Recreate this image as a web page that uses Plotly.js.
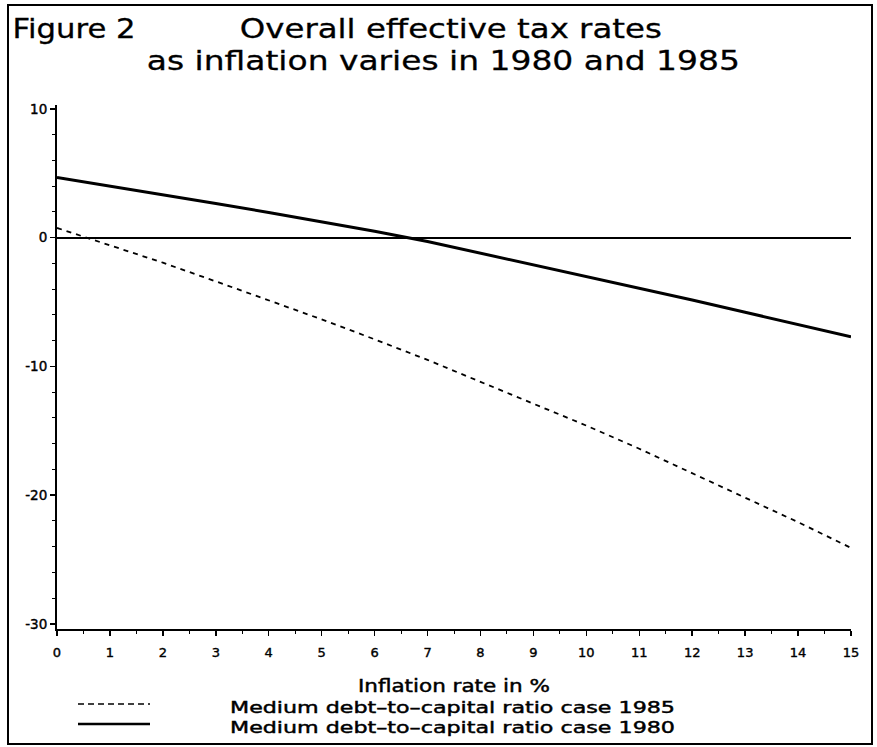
<!DOCTYPE html>
<html>
<head>
<meta charset="utf-8">
<script src="https://cdn.plot.ly/plotly-3.0.1.min.js"></script>
<style>
  html, body { margin: 0; padding: 0; background: #fff; }
  #chart { width: 877px; height: 747px; }
</style>
</head>
<body>
<div id="chart"></div>
<script>
// ---- data ----
const inflation = [0, 1, 2, 3, 4, 5, 6, 7, 8, 9, 10, 11, 12, 13, 14, 15];
const rate1985 = [0.75, -0.6, -1.95, -3.4, -4.85, -6.35, -7.9, -9.5, -11.2, -12.9, -14.6, -16.4, -18.3, -20.2, -22.1, -24.1];
const rate1980 = [4.67, 4.0, 3.35, 2.65, 1.95, 1.25, 0.5, -0.3, -1.2, -2.1, -3.0, -3.9, -4.85, -5.8, -6.75, -7.7];
const seriesNames = ["Medium debt–to–capital ratio case 1985", "Medium debt–to–capital ratio case 1980"];
const yTickVals = [-30, -20, -10, 0, 10];
const xTickVals = inflation;
const titleLeft = "Figure 2";
const titleLine1 = "Overall effective tax rates";
const titleLine2 = "as inflation varies in 1980 and 1985";
const xTitle = "Inflation rate in %";

// ---- geometry helpers (pixel -> paper) ----
const L = 57, R = 851, T = 105, B = 629;
const W = 877, H = 747;
const px = p => (p - L) / (R - L);
const py = p => (B - p) / (B - T);

const FONT = "DejaVu Sans, Verdana, sans-serif";

const traces = [
  {
    x: inflation, y: rate1985, type: "scatter", mode: "lines", name: seriesNames[0],
    line: { color: "#000", width: 1.8, dash: "5px,5px" }, showlegend: false
  },
  {
    x: inflation, y: rate1980, type: "scatter", mode: "lines", name: seriesNames[1],
    line: { color: "#000", width: 3 }, showlegend: false
  }
];

// annotation text items: [text, left px, right px, center y px, font size, extra stroke]
const textItems = [
  [titleLeft, 12, 135, 28, 27, 0.3],
  [titleLine1, 240, 662, 28, 27, 0.3],
  [titleLine2, 147, 740, 60, 27, 0.3],
  [xTitle, 358, 550, 686, 17, 0.45],
  [seriesNames[0], 230, 675, 707, 16.5, 0.45],
  [seriesNames[1], 230, 675, 727.5, 16.5, 0.45]
];

const layout = {
  width: W, height: H,
  margin: { l: L, r: W - R, t: T, b: H - B, pad: 0 },
  paper_bgcolor: "#fff", plot_bgcolor: "#fff",
  font: { family: FONT, color: "#000" },
  showlegend: false,
  xaxis: {
    range: [0, 15], tickvals: xTickVals, ticktext: xTickVals.map(String),
    showgrid: false, zeroline: false,
    showline: true, linecolor: "#000", linewidth: 2,
    ticks: "outside", ticklen: 5, tickwidth: 1.5, tickcolor: "#000",
    minor: { dtick: 0.5, ticks: "outside", ticklen: 3, tickwidth: 1, tickcolor: "#000", showgrid: false },
    tickfont: { family: FONT, size: 13, color: "#000" },
    ticklabelstandoff: 5,
    fixedrange: true
  },
  yaxis: {
    range: [-30.4, 10.3], tickvals: yTickVals, ticktext: yTickVals.map(String),
    showgrid: false,
    zeroline: true, zerolinecolor: "#000", zerolinewidth: 2.2,
    showline: true, linecolor: "#000", linewidth: 2,
    ticks: "outside", ticklen: 5, tickwidth: 1.5, tickcolor: "#000",
    minor: { dtick: 2, ticks: "outside", ticklen: 3, tickwidth: 1, tickcolor: "#000", showgrid: false },
    tickfont: { family: FONT, size: 13.5, color: "#000" },
    fixedrange: true
  },
  shapes: [
    // outer frame
    { type: "rect", xref: "paper", yref: "paper", x0: px(8), x1: px(872), y0: py(744), y1: py(5),
      line: { color: "#000", width: 2 }, fillcolor: "rgba(0,0,0,0)" },
    // legend samples
    { type: "line", xref: "paper", yref: "paper", x0: px(78), x1: px(150), y0: py(704), y1: py(704),
      line: { color: "#000", width: 1.5, dash: "6px,4px" } },
    { type: "line", xref: "paper", yref: "paper", x0: px(78), x1: px(150), y0: py(724), y1: py(724),
      line: { color: "#000", width: 2.5 } }
  ],
  annotations: textItems.map(([t, l, r, cy, fs]) => ({
    text: t, xref: "paper", yref: "paper", x: px((l + r) / 2), y: py(cy),
    xanchor: "center", yanchor: "middle", showarrow: false,
    font: { family: FONT, size: fs, color: "#000" }
  }))
};

Plotly.newPlot("chart", traces, layout, { displayModeBar: false, staticPlot: true }).then(gd => {
  // the original lettering is a wide geometric face: stretch glyphs to its measured widths
  const nodes = gd.querySelectorAll(".annotation-text");
  nodes.forEach((node, i) => {
    const item = textItems[i];
    if (!item) return;
    node.setAttribute("textLength", String(item[2] - item[1]));
    node.setAttribute("lengthAdjust", "spacingAndGlyphs");
    node.style.stroke = "#000";
    node.style.strokeWidth = item[5] + "px";
  });
  gd.querySelectorAll(".xtick text, .ytick text").forEach(node => {
    node.style.stroke = "#000";
    node.style.strokeWidth = "0.4px";
  });
});
</script>
</body>
</html>
